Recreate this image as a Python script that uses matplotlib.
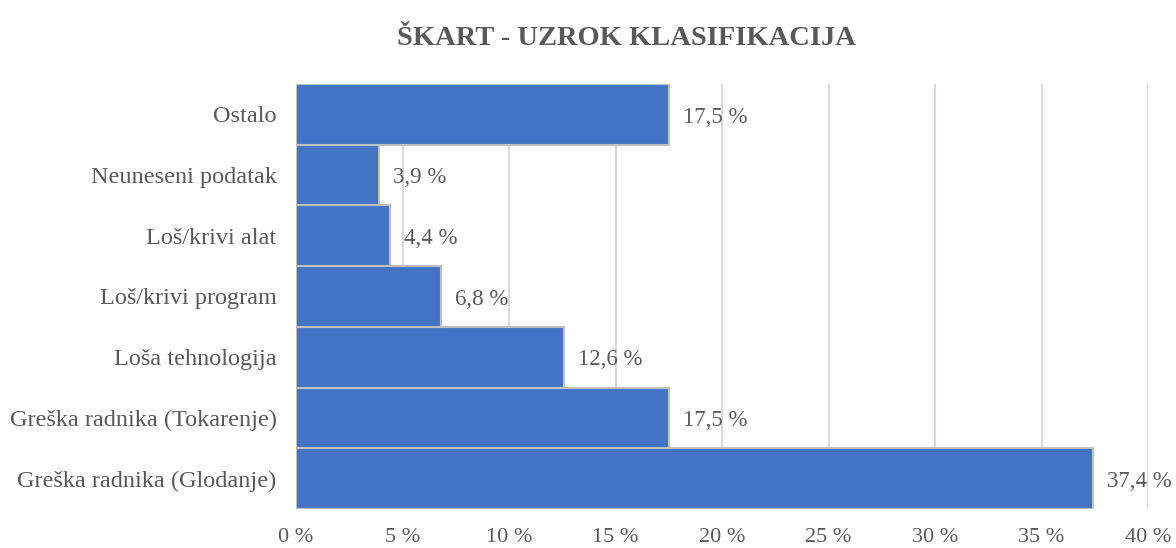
import matplotlib.pyplot as plt
from matplotlib.ticker import FuncFormatter

# Categories, bottom to top
categories = ['Greška radnika (Glodanje)', 'Greška radnika (Tokarenje)', 'Loša tehnologija',
              'Loš/krivi program', 'Loš/krivi alat', 'Neuneseni podatak', 'Ostalo']
values = [37.4, 17.5, 12.6, 6.8, 4.4, 3.9, 17.5]
xticks = [0, 5, 10, 15, 20, 25, 30, 35, 40]

plt.rcParams['font.family'] = ['Liberation Serif', 'DejaVu Serif']

fig = plt.figure(figsize=(11.76, 5.48), dpi=100)
ax = fig.add_axes([0.2517, 0.0712, 0.7245, 0.7755])

ax.barh(range(len(categories)), values, height=1.0, color='#4472C4',
        edgecolor='#BFBFBF', linewidth=1.5, zorder=3)

for i, v in enumerate(values):
    ax.annotate(f"{v:.1f} %".replace('.', ','), (v, i), xytext=(10, -2),
                textcoords='offset points', va='center', ha='left',
                fontsize=16.5, color='#595959', zorder=4)

ax.set_xlim(0, 40)
ax.set_ylim(-0.5, len(categories) - 0.5)
ax.set_xticks(xticks)
ax.xaxis.set_major_formatter(FuncFormatter(lambda x, p: f"{int(x)} %"))
ax.set_yticks(range(len(categories)))
ax.set_yticklabels(categories)
ax.tick_params(axis='both', length=0, colors='#595959')
ax.tick_params(axis='x', labelsize=16, pad=14)
ax.tick_params(axis='y', labelsize=17.5, pad=14)
ax.grid(axis='x', color='#D9D9D9', linewidth=1.5, zorder=0)
for s in ax.spines.values():
    s.set_visible(False)

fig.text(0.533, 0.93, 'ŠKART - UZROK KLASIFIKACIJA', ha='center', va='center',
         fontsize=20.5, fontweight='bold', color='#595959')

fig.savefig('out.png', dpi=100)
